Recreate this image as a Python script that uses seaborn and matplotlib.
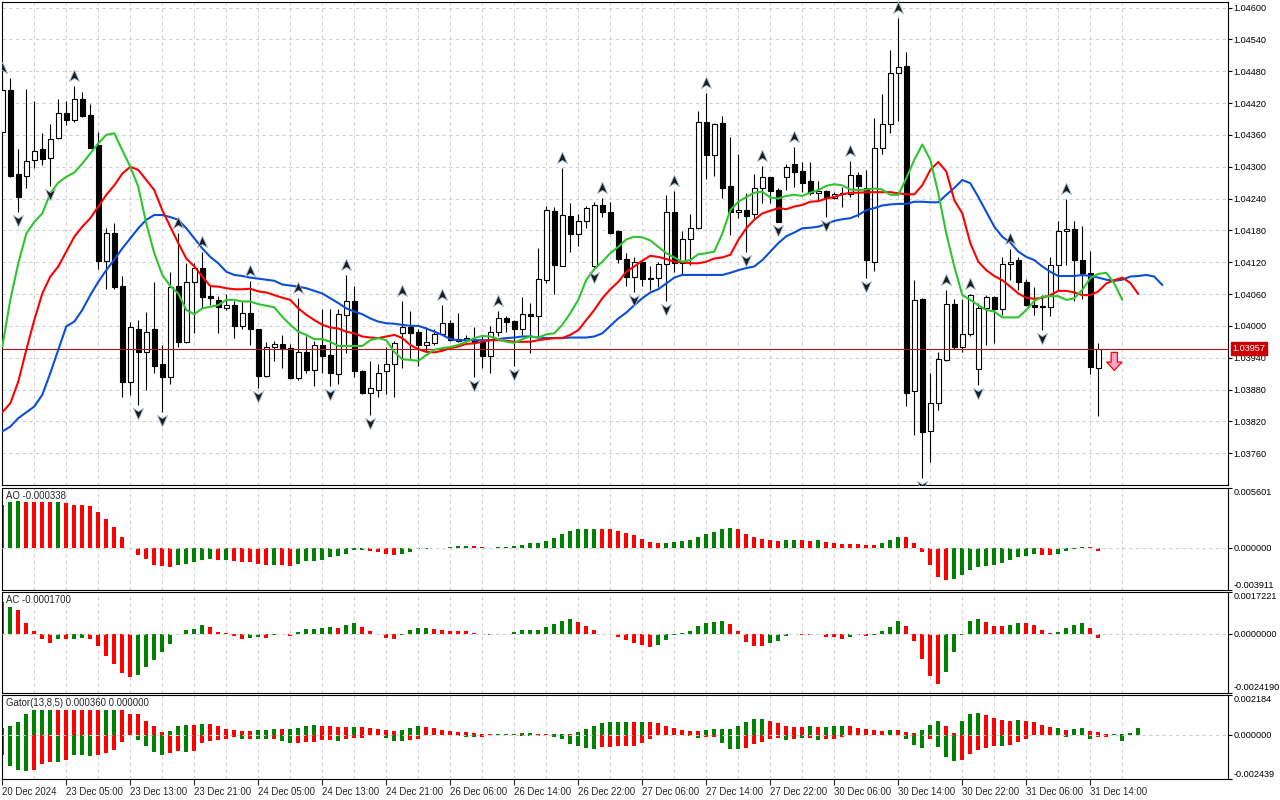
import matplotlib
matplotlib.use("Agg")
import matplotlib.pyplot as plt
from matplotlib import transforms
from matplotlib.path import Path
import numpy as np
import pandas as pd
import seaborn as sns

# ---------------------------------------------------------------------------
# Data (bar 0 = 20 Dec 2024, last = 31 Dec 15:00)
# ---------------------------------------------------------------------------

opens = [1.04366, 1.04444, 1.04286, 1.04282, 1.04313, 1.04333, 1.04316, 1.04355, 1.04402, 1.04389,
         1.04427, 1.04397, 1.04341, 1.04123, 1.04176, 1.04075, 1.03895, 1.03995, 1.03950, 1.03995,
         1.03929, 1.03903, 1.04075, 1.03969, 1.04083, 1.04110, 1.04056, 1.04049, 1.04033, 1.04039,
         1.03999, 1.04024, 1.03994, 1.03906, 1.03961, 1.03965, 1.03958, 1.03901, 1.03951, 1.03917,
         1.03963, 1.03945, 1.03909, 1.04021, 1.04046, 1.03915, 1.03873, 1.03880, 1.03914, 1.03928,
         1.03986, 1.03997, 1.03988, 1.03963, 1.03968, 1.03984, 1.04005, 1.03975, 1.03973, 1.03973,
         1.03970, 1.03944, 1.03988, 1.04014, 1.04010, 1.03994, 1.04022, 1.04019, 1.04087, 1.04216,
         1.04113, 1.04207, 1.04173, 1.04198, 1.04113, 1.04227, 1.04214, 1.04179, 1.04127, 1.04093,
         1.04121, 1.04090, 1.04090, 1.04116, 1.04214, 1.04119, 1.04163, 1.04184, 1.04384, 1.04322,
         1.04382, 1.04264, 1.04214, 1.04218, 1.04210, 1.04259, 1.04280, 1.04256, 1.04281, 1.04306,
         1.04292, 1.04273, 1.04250, 1.04254, 1.04242, 1.04249, 1.04248, 1.04284, 1.04259, 1.04120,
         1.04336, 1.04380, 1.04476, 1.04490, 1.03877, 1.04050, 1.03801, 1.03854, 1.03936, 1.04041,
         1.03961, 1.03984, 1.03918, 1.04033, 1.04054, 1.04031, 1.04116, 1.04124, 1.04082, 1.04039,
         1.04038, 1.04036, 1.04115, 1.04179, 1.04182, 1.04125, 1.04099, 1.03921]
highs = [1.04468, 1.04468, 1.04333, 1.04446, 1.04424, 1.04363, 1.04380, 1.04428, 1.04423, 1.04452,
         1.04441, 1.04418, 1.04365, 1.04184, 1.04194, 1.04094, 1.04008, 1.04011, 1.04026, 1.04082,
         1.03964, 1.04101, 1.04176, 1.04119, 1.04119, 1.04139, 1.04077, 1.04056, 1.04061, 1.04046,
         1.04046, 1.04085, 1.03995, 1.03969, 1.03972, 1.03983, 1.03965, 1.04053, 1.03980, 1.03972,
         1.04031, 1.04031, 1.04031, 1.04096, 1.04076, 1.03917, 1.03934, 1.03928, 1.03961, 1.03972,
         1.04047, 1.04028, 1.03995, 1.03997, 1.03995, 1.04039, 1.04011, 1.04024, 1.03982, 1.03997,
         1.03980, 1.04000, 1.04028, 1.04019, 1.04011, 1.04055, 1.04044, 1.04147, 1.04226, 1.04225,
         1.04297, 1.04231, 1.04211, 1.04226, 1.04233, 1.04242, 1.04233, 1.04181, 1.04137, 1.04130,
         1.04124, 1.04112, 1.04121, 1.04247, 1.04254, 1.04178, 1.04210, 1.04405, 1.04439, 1.04382,
         1.04395, 1.04357, 1.04324, 1.04250, 1.04286, 1.04301, 1.04281, 1.04259, 1.04306, 1.04338,
         1.04309, 1.04308, 1.04273, 1.04256, 1.04253, 1.04262, 1.04311, 1.04291, 1.04294, 1.04392,
         1.04438, 1.04520, 1.04580, 1.04517, 1.04087, 1.04053, 1.03912, 1.03950, 1.04068, 1.04051,
         1.04051, 1.04061, 1.04043, 1.04058, 1.04056, 1.04130, 1.04144, 1.04130, 1.04088, 1.04073,
         1.04058, 1.04129, 1.04198, 1.04240, 1.04198, 1.04189, 1.04141, 1.03968]
lows = [1.04363, 1.04281, 1.04215, 1.04260, 1.04298, 1.04304, 1.04264, 1.04353, 1.04378, 1.04385,
        1.04394, 1.04335, 1.04108, 1.04069, 1.04069, 1.03865, 1.03870, 1.03851, 1.03879, 1.03912,
        1.03838, 1.03890, 1.03961, 1.03967, 1.03987, 1.04033, 1.04039, 1.03987, 1.04030, 1.03978,
        1.03995, 1.03964, 1.03882, 1.03904, 1.03933, 1.03921, 1.03899, 1.03898, 1.03912, 1.03887,
        1.03912, 1.03886, 1.03890, 1.03948, 1.03903, 1.03872, 1.03832, 1.03865, 1.03871, 1.03865,
        1.03921, 1.03939, 1.03925, 1.03951, 1.03963, 1.03983, 1.03972, 1.03970, 1.03972, 1.03903,
        1.03921, 1.03911, 1.03980, 1.03989, 1.03924, 1.03983, 1.03948, 1.03978, 1.04080, 1.04061,
        1.04112, 1.04140, 1.04151, 1.04184, 1.04108, 1.04205, 1.04174, 1.04118, 1.04076, 1.04063,
        1.04076, 1.04068, 1.04074, 1.04046, 1.04102, 1.04096, 1.04115, 1.04182, 1.04277, 1.04283,
        1.04242, 1.04171, 1.04204, 1.04140, 1.04203, 1.04231, 1.04231, 1.04195, 1.04256, 1.04262,
        1.04253, 1.04247, 1.04235, 1.04205, 1.04240, 1.04225, 1.04243, 1.04206, 1.04091, 1.04103,
        1.04324, 1.04364, 1.04387, 1.03848, 1.03795, 1.03713, 1.03744, 1.03842, 1.03933, 1.03956,
        1.03950, 1.03980, 1.03889, 1.03963, 1.03967, 1.04021, 1.04087, 1.04068, 1.04038, 1.04021,
        1.03992, 1.04019, 1.04068, 1.04114, 1.04046, 1.04050, 1.03909, 1.03831]
closes = [1.04444, 1.04283, 1.04243, 1.04311, 1.04330, 1.04314, 1.04353, 1.04402, 1.04389, 1.04427,
          1.04396, 1.04336, 1.04123, 1.04176, 1.04074, 1.03895, 1.03997, 1.03951, 1.03989, 1.03925,
          1.03904, 1.04074, 1.03970, 1.04083, 1.04110, 1.04055, 1.04053, 1.04035, 1.04039, 1.03999,
          1.04024, 1.03994, 1.03906, 1.03961, 1.03965, 1.03956, 1.03901, 1.03950, 1.03917, 1.03963,
          1.03944, 1.03912, 1.04022, 1.04046, 1.03915, 1.03873, 1.03882, 1.03912, 1.03928, 1.03967,
          1.03997, 1.03987, 1.03963, 1.03969, 1.03985, 1.04005, 1.03973, 1.03972, 1.03978, 1.03970,
          1.03944, 1.03988, 1.04014, 1.04008, 1.03994, 1.04022, 1.04019, 1.04088, 1.04218, 1.04115,
          1.04209, 1.04173, 1.04198, 1.04222, 1.04227, 1.04214, 1.04176, 1.04127, 1.04093, 1.04121,
          1.04088, 1.04088, 1.04116, 1.04214, 1.04119, 1.04163, 1.04184, 1.04384, 1.04323, 1.04380,
          1.04260, 1.04214, 1.04218, 1.04208, 1.04259, 1.04280, 1.04255, 1.04196, 1.04299, 1.04291,
          1.04270, 1.04250, 1.04254, 1.04242, 1.04248, 1.04250, 1.04284, 1.04264, 1.04125, 1.04336,
          1.04380, 1.04476, 1.04488, 1.03874, 1.04049, 1.03799, 1.03854, 1.03938, 1.04041, 1.03961,
          1.03984, 1.04058, 1.04033, 1.04054, 1.04031, 1.04116, 1.04121, 1.04083, 1.04039, 1.04036,
          1.04036, 1.04114, 1.04179, 1.04182, 1.04125, 1.04099, 1.03923, 1.03957]

# Alligator lines as drawn (already shifted forward 8 / 5 / 3 bars)
jaw = [1.03801, 1.03810, 1.03826, 1.03837, 1.03848, 1.03870, 1.03911, 1.03955, 1.03999, 1.04008,
       1.04030, 1.04058, 1.04083, 1.04105, 1.04125, 1.04146, 1.04165, 1.04184, 1.04200, 1.04209,
       1.04209, 1.04205, 1.04200, 1.04184, 1.04165, 1.04146, 1.04130, 1.04118, 1.04102, 1.04096,
       1.04094, 1.04091, 1.04089, 1.04087, 1.04085, 1.04078, 1.04076, 1.04074, 1.04071, 1.04066,
       1.04061, 1.04052, 1.04043, 1.04033, 1.04027, 1.04022, 1.04014, 1.04008, 1.04005, 1.04004,
       1.04002, 1.04000, 1.04000, 1.03995, 1.03989, 1.03983, 1.03975, 1.03973, 1.03973, 1.03973,
       1.03973, 1.03973, 1.03975, 1.03977, 1.03978, 1.03980, 1.03980, 1.03978, 1.03977, 1.03977,
       1.03977, 1.03978, 1.03978, 1.03978, 1.03980, 1.03986, 1.04000, 1.04014, 1.04025, 1.04039,
       1.04052, 1.04063, 1.04069, 1.04080, 1.04091, 1.04096, 1.04096, 1.04096, 1.04096, 1.04096,
       1.04096, 1.04100, 1.04105, 1.04109, 1.04112, 1.04124, 1.04140, 1.04156, 1.04169, 1.04176,
       1.04184, 1.04185, 1.04187, 1.04192, 1.04198, 1.04201, 1.04203, 1.04209, 1.04218, 1.04222,
       1.04227, 1.04229, 1.04230, 1.04230, 1.04234, 1.04234, 1.04233, 1.04233, 1.04247, 1.04260,
       1.04275, 1.04269, 1.04243, 1.04215, 1.04187, 1.04168, 1.04157, 1.04140, 1.04130, 1.04124,
       1.04112, 1.04102, 1.04094, 1.04094, 1.04094, 1.04096, 1.04094, 1.04091, 1.04087, 1.04085,
       1.04087, 1.04093, 1.04094, 1.04096, 1.04093, 1.04077]
teeth = [1.03837, 1.03854, 1.03895, 1.03955, 1.04011, 1.04061, 1.04093, 1.04112, 1.04140, 1.04168,
         1.04187, 1.04203, 1.04225, 1.04247, 1.04265, 1.04287, 1.04300, 1.04294, 1.04275, 1.04256,
         1.04218, 1.04187, 1.04156, 1.04127, 1.04112, 1.04093, 1.04075, 1.04074, 1.04071, 1.04069,
         1.04069, 1.04070, 1.04065, 1.04063, 1.04058, 1.04053, 1.04049, 1.04033, 1.04021, 1.04011,
         1.04002, 1.03997, 1.03995, 1.03989, 1.03986, 1.03980, 1.03978, 1.03977, 1.03980, 1.03983,
         1.03977, 1.03964, 1.03956, 1.03951, 1.03950, 1.03953, 1.03958, 1.03961, 1.03966, 1.03967,
         1.03970, 1.03973, 1.03973, 1.03972, 1.03970, 1.03970, 1.03970, 1.03973, 1.03975, 1.03977,
         1.03977, 1.03983, 1.03992, 1.04011, 1.04030, 1.04052, 1.04069, 1.04083, 1.04102, 1.04112,
         1.04123, 1.04132, 1.04130, 1.04126, 1.04121, 1.04120, 1.04118, 1.04118, 1.04121, 1.04127,
         1.04129, 1.04134, 1.04162, 1.04184, 1.04200, 1.04212, 1.04217, 1.04222, 1.04220, 1.04225,
         1.04228, 1.04234, 1.04235, 1.04240, 1.04243, 1.04248, 1.04251, 1.04251, 1.04252, 1.04252,
         1.04252, 1.04252, 1.04250, 1.04248, 1.04248, 1.04265, 1.04294, 1.04309, 1.04291, 1.04237,
         1.04212, 1.04156, 1.04121, 1.04105, 1.04094, 1.04086, 1.04074, 1.04061, 1.04053, 1.04051,
         1.04053, 1.04058, 1.04066, 1.04066, 1.04063, 1.04058, 1.04058, 1.04065, 1.04080, 1.04086,
         1.04091, 1.04081, 1.04060]
lips = [1.03961, 1.04049, 1.04118, 1.04174, 1.04196, 1.04212, 1.04250, 1.04270, 1.04281, 1.04289,
        1.04306, 1.04325, 1.04344, 1.04360, 1.04363, 1.04331, 1.04300, 1.04262, 1.04193, 1.04137,
        1.04096, 1.04075, 1.04061, 1.04030, 1.04022, 1.04033, 1.04036, 1.04039, 1.04049, 1.04049,
        1.04046, 1.04046, 1.04041, 1.04038, 1.04035, 1.04017, 1.04002, 1.03989, 1.03983, 1.03975,
        1.03975, 1.03970, 1.03962, 1.03962, 1.03962, 1.03962, 1.03973, 1.03977, 1.03973, 1.03951,
        1.03937, 1.03936, 1.03934, 1.03945, 1.03955, 1.03958, 1.03960, 1.03964, 1.03970, 1.03977,
        1.03981, 1.03980, 1.03975, 1.03970, 1.03968, 1.03975, 1.03980, 1.03978, 1.03984, 1.03986,
        1.04002, 1.04024, 1.04049, 1.04087, 1.04107, 1.04121, 1.04137, 1.04149, 1.04163, 1.04168,
        1.04167, 1.04161, 1.04149, 1.04137, 1.04129, 1.04121, 1.04124, 1.04135, 1.04137, 1.04140,
        1.04174, 1.04218, 1.04234, 1.04243, 1.04251, 1.04253, 1.04242, 1.04240, 1.04245, 1.04247,
        1.04245, 1.04251, 1.04256, 1.04264, 1.04267, 1.04265, 1.04257, 1.04256, 1.04257, 1.04259,
        1.04257, 1.04247, 1.04247, 1.04278, 1.04313, 1.04342, 1.04313, 1.04250, 1.04174, 1.04112,
        1.04058, 1.04049, 1.04039, 1.04030, 1.04027, 1.04016, 1.04016, 1.04016, 1.04030, 1.04047,
        1.04055, 1.04056, 1.04056, 1.04049, 1.04052, 1.04068, 1.04090, 1.04098, 1.04100, 1.04080,
        1.04049]

# bars carrying a fractal arrow
fractal_up = [0, 9, 22, 25, 31, 37, 43, 50, 55, 62, 70, 75, 84, 88, 95, 99, 106, 112, 118, 121, 126, 133]
fractal_down = [2, 6, 17, 20, 32, 41, 46, 59, 64, 74, 79, 83, 93, 97, 103, 108, 115, 122, 130]

ao_values = [0.00400, 0.00431, 0.00432, 0.00430, 0.00429, 0.00428, 0.00427, 0.00429, 0.00422, 0.00400,
             0.00399, 0.00394, 0.00338, 0.00270, 0.00195, 0.00096, -0.00003, -0.00071, -0.00109, -0.00158,
             -0.00174, -0.00175, -0.00158, -0.00149, -0.00136, -0.00112, -0.00102, -0.00113, -0.00111, -0.00121,
             -0.00133, -0.00136, -0.00149, -0.00158, -0.00157, -0.00160, -0.00167, -0.00149, -0.00127, -0.00121,
             -0.00112, -0.00090, -0.00081, -0.00056, -0.00025, -0.00024, -0.00034, -0.00035, -0.00056, -0.00065,
             -0.000558, -0.000372, -0.000155, -0.000093, -0.000062, -0.000031, 0.000093, 0.000186, 0.000190, 0.000180,
             0.000062, -0.000062, 0.000062, 0.000070, 0.000186, 0.000279, 0.000403, 0.000465, 0.000651, 0.000930,
             0.001302, 0.001581, 0.001767, 0.001770, 0.001775, 0.001765, 0.001760, 0.001581, 0.001364, 0.001209,
             0.000837, 0.000558, 0.000465, 0.000470, 0.000558, 0.000589, 0.000682, 0.000961, 0.001302, 0.001488,
             0.001767, 0.001860, 0.001767, 0.001302, 0.001023, 0.000837, 0.000744, 0.000651, 0.000744, 0.000750,
             0.000744, 0.000651, 0.000744, 0.000558, 0.000465, 0.000372, 0.000370, 0.000365, 0.000279, 0.000275,
             0.000465, 0.000744, 0.001023, 0.001010, 0.000465, -0.000434, -0.001643, -0.002759, -0.003038, -0.002883,
             -0.002573, -0.002108, -0.001829, -0.001674, -0.001643, -0.001457, -0.001178, -0.000899, -0.000806, -0.000620,
             -0.000630, -0.000713, -0.000620, -0.000341, -0.000124, 0.000062, 0.000040, -0.000338]
ao_dirs = ("gggrrrrgrr" "rrrrrrrrrr" "rrgggggrgr" "rrrrgrrggg" "ggggggrrrr" "gggggggggr" "rrgggggggg"
           "gggggrrrrr" "rrrggggggg" "ggrrrrrrgg" "rrgrrrrrrr" "gggrrrrrrg" "gggggggggg" "rrggggrr")

ac_values = [0.001307, 0.001115, 0.000991, 0.000468, 0.000138, -0.000193, -0.000358, -0.000193, -0.000195, -0.000190,
             -0.000151, -0.000193, -0.000482, -0.000908, -0.001238, -0.001596, -0.001761, -0.001679, -0.001362, -0.001060,
             -0.000729, -0.000399, -0.000014, 0.000165, 0.000206, 0.000372, 0.000289, 0.000083, 0.000041, -0.000069,
             -0.000193, -0.000151, -0.000110, -0.000151, -0.000055, -0.000014, -0.000069, 0.000083, 0.000206, 0.000210,
             0.000261, 0.000289, 0.000248, 0.000385, 0.000454, 0.000289, 0.000124, -0.000005, -0.000151, -0.000193,
             -0.000028, 0.000165, 0.000248, 0.000245, 0.000206, 0.000165, 0.000124, 0.000120, 0.000118, 0.000041,
             -0.000005, -0.000055, -0.000014, -0.000010, 0.000083, 0.000165, 0.000168, 0.000170, 0.000289, 0.000413,
             0.000537, 0.000619, 0.000495, 0.000330, 0.000165, -0.000005, -0.000014, -0.000110, -0.000248, -0.000372,
             -0.000454, -0.000523, -0.000440, -0.000248, -0.000028, 0.000028, 0.000124, 0.000330, 0.000454, 0.000495,
             0.000537, 0.000413, 0.000124, -0.000316, -0.000495, -0.000500, -0.000358, -0.000289, -0.000069, -0.000014,
             -0.000028, -0.000030, -0.000014, -0.000110, -0.000138, -0.000193, -0.000110, -0.000055, -0.000096, -0.000028,
             0.000124, 0.000289, 0.000537, 0.000330, -0.000275, -0.001018, -0.001720, -0.002050, -0.001569, -0.000729,
             -0.000028, 0.000537, 0.000619, 0.000495, 0.000330, 0.000325, 0.000372, 0.000454, 0.000450, 0.000372,
             0.000165, 0.000041, 0.000083, 0.000248, 0.000372, 0.000454, 0.000248, -0.000170]
ac_dirs = ("ggrrrrrgrg" "grrrrrrggg" "ggggggrrrr" "rggrggrggg" "ggrggrrrrr" "ggggrrrrrr" "rrgggggggg"
           "ggrrrrrrrr" "rrgggggggg" "grrrrrgggg" "rrgrrrggrg" "gggrrrrrgg" "gggrrrggrr" "rrggggrr")

gator_upper = [0.000367, 0.000459, 0.000679, 0.001156, 0.001376, 0.001376, 0.001376, 0.001376, 0.001376, 0.001376,
               0.001376, 0.001376, 0.001376, 0.001376, 0.001376, 0.001376, 0.001156, 0.001156, 0.000771, 0.000495,
               0.000128, 0.000220, 0.000495, 0.000551, 0.000550, 0.000606, 0.000605, 0.000495, 0.000330, 0.000275,
               0.000220, 0.000218, 0.000275, 0.000277, 0.000330, 0.000328, 0.000332, 0.000385, 0.000495, 0.000551,
               0.000495, 0.000493, 0.000440, 0.000438, 0.000442, 0.000440, 0.000385, 0.000330, 0.000275, 0.000220,
               0.000275, 0.000385, 0.000495, 0.000440, 0.000385, 0.000275, 0.000220, 0.000165, 0.000163, 0.000110,
               0.000055, 0.000053, 0.000057, 0.000018, 0.000055, 0.000110, 0.000112, 0.000055, 0.000053, 0.000055,
               0.000057, 0.000055, 0.000165, 0.000330, 0.000495, 0.000661, 0.000716, 0.000718, 0.000720, 0.000716,
               0.000718, 0.000714, 0.000661, 0.000495, 0.000385, 0.000275, 0.000220, 0.000218, 0.000275, 0.000330,
               0.000332, 0.000334, 0.000495, 0.000716, 0.000881, 0.000883, 0.000771, 0.000661, 0.000495, 0.000440,
               0.000438, 0.000495, 0.000440, 0.000442, 0.000495, 0.000497, 0.000493, 0.000385, 0.000330, 0.000275,
               0.000220, 0.000275, 0.000273, 0.000165, 0.000110, 0.000275, 0.000551, 0.000771, 0.000495, 0.000110,
               0.000771, 0.001156, 0.001211, 0.001101, 0.000936, 0.000826, 0.000771, 0.000826, 0.000771, 0.000716,
               0.000551, 0.000440, 0.000385, 0.000275, 0.000330, 0.000385, 0.000220, 0.000165, 0.000055, 0.000057,
               0.000018, 0.000110, 0.000360]
gator_upper_dirs = ("gggggggrrr" "rrrggrrrrr" "rgggrgrrrr" "rrgggrgggg" "rrrrgrrrrr" "gggrrrrrrr" "rrgggggrrg"
                    "grgggggggr" "grrrrrrrgg" "ggggggrrrr" "rgrgggrrrr" "rgrrrgggrr" "gggrrrrgrr" "rrgrggrrrg"
                    "ggg")
gator_lower = [-0.001101, -0.001743, -0.001963, -0.002019, -0.001963, -0.001633, -0.001523, -0.001520, -0.001376, -0.001138,
               -0.001135, -0.001193, -0.001138, -0.001028, -0.000862, -0.000422, -0.000037, -0.000275, -0.000642, -0.000973,
               -0.001101, -0.001009, -0.000881, -0.000973, -0.000881, -0.000459, -0.000367, -0.000312, -0.000220, -0.000147,
               -0.000220, -0.000218, -0.000222, -0.000224, -0.000220, -0.000330, -0.000440, -0.000438, -0.000385, -0.000383,
               -0.000275, -0.000273, -0.000330, -0.000220, -0.000165, -0.000163, -0.000037, -0.000035, -0.000165, -0.000330,
               -0.000332, -0.000275, -0.000220, -0.000037, -0.000036, -0.000035, -0.000034, -0.000055, -0.000110, -0.000112,
               -0.000110, -0.000037, -0.000038, -0.000039, -0.000040, -0.000055, -0.000073, -0.000075, -0.000037, -0.000110,
               -0.000220, -0.000495, -0.000606, -0.000716, -0.000771, -0.000661, -0.000659, -0.000606, -0.000604, -0.000602,
               -0.000440, -0.000220, -0.000037, -0.000036, -0.000035, -0.000037, -0.000055, -0.000165, -0.000110, -0.000108,
               -0.000440, -0.000771, -0.000773, -0.000716, -0.000495, -0.000385, -0.000220, -0.000165, -0.000275, -0.000220,
               -0.000165, -0.000163, -0.000275, -0.000220, -0.000218, -0.000128, -0.000018, -0.000017, -0.000019, -0.000037,
               -0.000036, -0.000038, -0.000037, -0.000257, -0.000587, -0.000752, -0.000220, -0.000697, -0.001248, -0.001468,
               -0.001413, -0.001083, -0.000862, -0.000752, -0.000642, -0.000644, -0.000587, -0.000422, -0.000257, -0.000018,
               -0.000017, -0.000037, -0.000038, -0.000147, -0.000037, -0.000018, -0.000257, -0.000147, -0.000145, -0.000037,
               -0.000367]
gator_lower_dirs = ("ggggrrrgrg" "ggrrrrrggg" "grrgrrrrrr" "grggrggrrr" "rrgrrrrrgg" "grrrrrrggg" "rrgggrggrg"
                    "gggggrrrrr" "rrrrrgggrr" "gggrrrrrgr" "grgrrrrrgr" "rgrgggrggg" "rrrrrgrrrr" "rgggrrgrrg"
                    "g")

price_ticks = [1.03760, 1.03820, 1.03880, 1.03940, 1.04000, 1.04060, 1.04120, 1.04180,
               1.04240, 1.04300, 1.04360, 1.04420, 1.04480, 1.04540, 1.04600]
price_range = (1.03700, 1.04610)
ao_range = (-0.003911, 0.005601)
ac_range = (-0.0024190, 0.0017221)
gator_range = (-0.002439, 0.002184)

time_tick_bars = [0, 8, 16, 24, 32, 40, 48, 56, 64, 72, 80, 88, 96, 104, 112, 120, 128, 136]
time_tick_labels = ["20 Dec 2024", "23 Dec 05:00", "23 Dec 13:00", "23 Dec 21:00", "24 Dec 05:00",
                    "24 Dec 13:00", "24 Dec 21:00", "26 Dec 06:00", "26 Dec 14:00", "26 Dec 22:00",
                    "27 Dec 06:00", "27 Dec 14:00", "27 Dec 22:00", "30 Dec 06:00", "30 Dec 14:00",
                    "30 Dec 22:00", "31 Dec 06:00", "31 Dec 14:00"]

# sell-signal arrow object on the chart
signal_bar = 139
signal_top, signal_tip = 1.03950, 1.03916

# ---------------------------------------------------------------------------

GREEN = "#008000"
RED = "#ff0000"
GRID = "#d2d2d2"
DASH = (0, (3, 3))
X_RIGHT = 153.15
FS = 6.6

sns.set_style("white")
plt.rcParams["font.family"] = ["Liberation Sans", "DejaVu Sans"]
plt.rcParams["font.size"] = FS
plt.rcParams["axes.linewidth"] = 0.8

fig = plt.figure(figsize=(12.8, 8), dpi=100)
fig.patch.set_facecolor("white")
left, width = 2.3 / 1280, 1225.2 / 1280
ax_main = fig.add_axes([left, 1 - 485 / 800, width, 482.7 / 800])
ax_ao = fig.add_axes([left, 1 - 589.7 / 800, width, 102 / 800])
ax_ac = fig.add_axes([left, 1 - 692.5 / 800, width, 100.2 / 800])
ax_gt = fig.add_axes([left, 1 - 779 / 800, width, 84 / 800])
axes = [ax_main, ax_ao, ax_ac, ax_gt]


def _frame(ax):
    ax.set_facecolor("white")
    ax.set_xlim(0, X_RIGHT)
    for sp in ax.spines.values():
        sp.set_visible(True)
        sp.set_color("black")
        sp.set_linewidth(0.8)
    ax.set_xticks(time_tick_bars)
    ax.set_xticks([b + 4 for b in time_tick_bars], minor=True)
    ax.grid(True, axis="x", which="both", color=GRID, linestyle=DASH, linewidth=0.8)
    ax.set_axisbelow(True)
    ax.yaxis.tick_right()
    ax.tick_params(axis="y", which="both", direction="out", length=3, pad=1.5,
                   labelsize=FS, colors="black", left=False, right=True)
    ax.tick_params(axis="x", which="both", length=0, labelbottom=False)


for ax in axes:
    _frame(ax)

# --- main price panel ------------------------------------------------------
idx = np.arange(len(opens))
o = np.array(opens)
h = np.array(highs)
lo = np.array(lows)
c = np.array(closes)
bull = c >= o

ax_main.set_ylim(*price_range)
ax_main.set_yticks(price_ticks)
ax_main.set_yticklabels([f"{p:.5f}" for p in price_ticks])
ax_main.grid(True, axis="y", color=GRID, linestyle=DASH, linewidth=0.8)

ax_main.vlines(idx, lo, h, color="black", linewidth=0.8, zorder=2)
ax_main.bar(idx, np.maximum(np.abs(c - o), 1e-6), bottom=np.minimum(o, c), width=0.55,
            color=np.where(bull, "white", "black"), edgecolor="black", linewidth=0.8, zorder=3)

alligator = [(jaw, "#0b4fd6"), (teeth, "#ff0000"), (lips, "#2fc52f")]
for series, colour in alligator:
    frame = pd.DataFrame({"bar": np.arange(len(series)), "value": series})
    sns.lineplot(data=frame, x="bar", y="value", ax=ax_main, color=colour,
                 linewidth=1.5, zorder=4, legend=False)
ax_main.set_xlabel("")
ax_main.set_ylabel("")

arrow_up = Path([(0, 1), (0.8, -0.8), (0, -0.3), (-0.8, -0.8), (0, 1)],
                [Path.MOVETO, Path.LINETO, Path.LINETO, Path.LINETO, Path.CLOSEPOLY])
arrow_dn = Path([(0, -1), (0.8, 0.8), (0, 0.3), (-0.8, 0.8), (0, -1)],
                [Path.MOVETO, Path.LINETO, Path.LINETO, Path.LINETO, Path.CLOSEPOLY])
up_tr = transforms.offset_copy(ax_main.transData, fig=fig, x=0, y=10, units="dots")
dn_tr = transforms.offset_copy(ax_main.transData, fig=fig, x=0, y=-8, units="dots")
ax_main.plot(fractal_up, h[fractal_up], ls="none", marker=arrow_up, ms=9,
             mfc="#1c1c1c", mec="#9fb8d0", mew=0.6, transform=up_tr, zorder=5)
ax_main.plot(fractal_down, lo[fractal_down], ls="none", marker=arrow_dn, ms=9,
             mfc="#1c1c1c", mec="#9fb8d0", mew=0.6, transform=dn_tr, zorder=5)

last = closes[-1]
ax_main.axhline(last, color="#b01414", linewidth=0.8, zorder=3)
price_tr = transforms.blended_transform_factory(ax_main.transAxes, ax_main.transData)
ax_main.annotate(f"{last:.5f}", xy=(1, last), xycoords=price_tr, xytext=(5, 0),
                 textcoords="offset pixels", ha="left", va="center", color="white", fontsize=FS,
                 bbox=dict(boxstyle="square,pad=0.2", fc="#cc0000", ec="#cc0000"),
                 annotation_clip=False, zorder=10)

ax_main.annotate("", xy=(signal_bar, signal_tip), xytext=(signal_bar, signal_top),
                 arrowprops=dict(arrowstyle="simple,head_length=0.6,head_width=1.1,tail_width=0.45",
                                 fc="#ffa3c6", ec="#ff0000", lw=0.9, mutation_scale=10,
                                 shrinkA=0, shrinkB=0), zorder=6)

# --- indicator panels ------------------------------------------------------
def _histogram(ax, values, dirs):
    colours = [GREEN if d == "g" else RED for d in dirs]
    ax.bar(np.arange(len(values)), values, width=0.5, color=colours, linewidth=0, zorder=2)


def _right_labels(ax, rng, fmt):
    ticks = [rng[0], 0.0, rng[1]]
    ax.set_ylim(*rng)
    ax.set_yticks(ticks)
    ax.set_yticklabels([fmt.format(t) for t in ticks])
    labels = ax.get_yticklabels()
    labels[0].set_va("bottom")
    labels[2].set_va("top")
    ax.axhline(0, color=GRID, linestyle=DASH, linewidth=0.8, zorder=3)


def _title(ax, text):
    ax.annotate(text, xy=(0, 1), xycoords="axes fraction", xytext=(4, -3),
                textcoords="offset pixels", ha="left", va="top", fontsize=FS + 0.3, zorder=10)


_histogram(ax_ao, ao_values, ao_dirs)
_right_labels(ax_ao, ao_range, "{:.6f}")
_title(ax_ao, f"AO {ao_values[-1]:.6f}")

_histogram(ax_ac, ac_values, ac_dirs)
_right_labels(ax_ac, ac_range, "{:.7f}")
_title(ax_ac, f"AC {ac_values[-1]:.7f}")

_histogram(ax_gt, gator_upper, gator_upper_dirs)
_histogram(ax_gt, gator_lower, gator_lower_dirs)
_right_labels(ax_gt, gator_range, "{:.6f}")
_title(ax_gt, f"Gator(13,8,5) {gator_upper[-1]:.6f} {0:.6f}")

ax_gt.tick_params(axis="x", which="major", length=4, direction="out", pad=1.5,
                  labelbottom=True, labelsize=FS + 0.3, bottom=True)
ax_gt.set_xticklabels(time_tick_labels, ha="left")

fig.savefig("out.png", dpi=100, facecolor="white")
